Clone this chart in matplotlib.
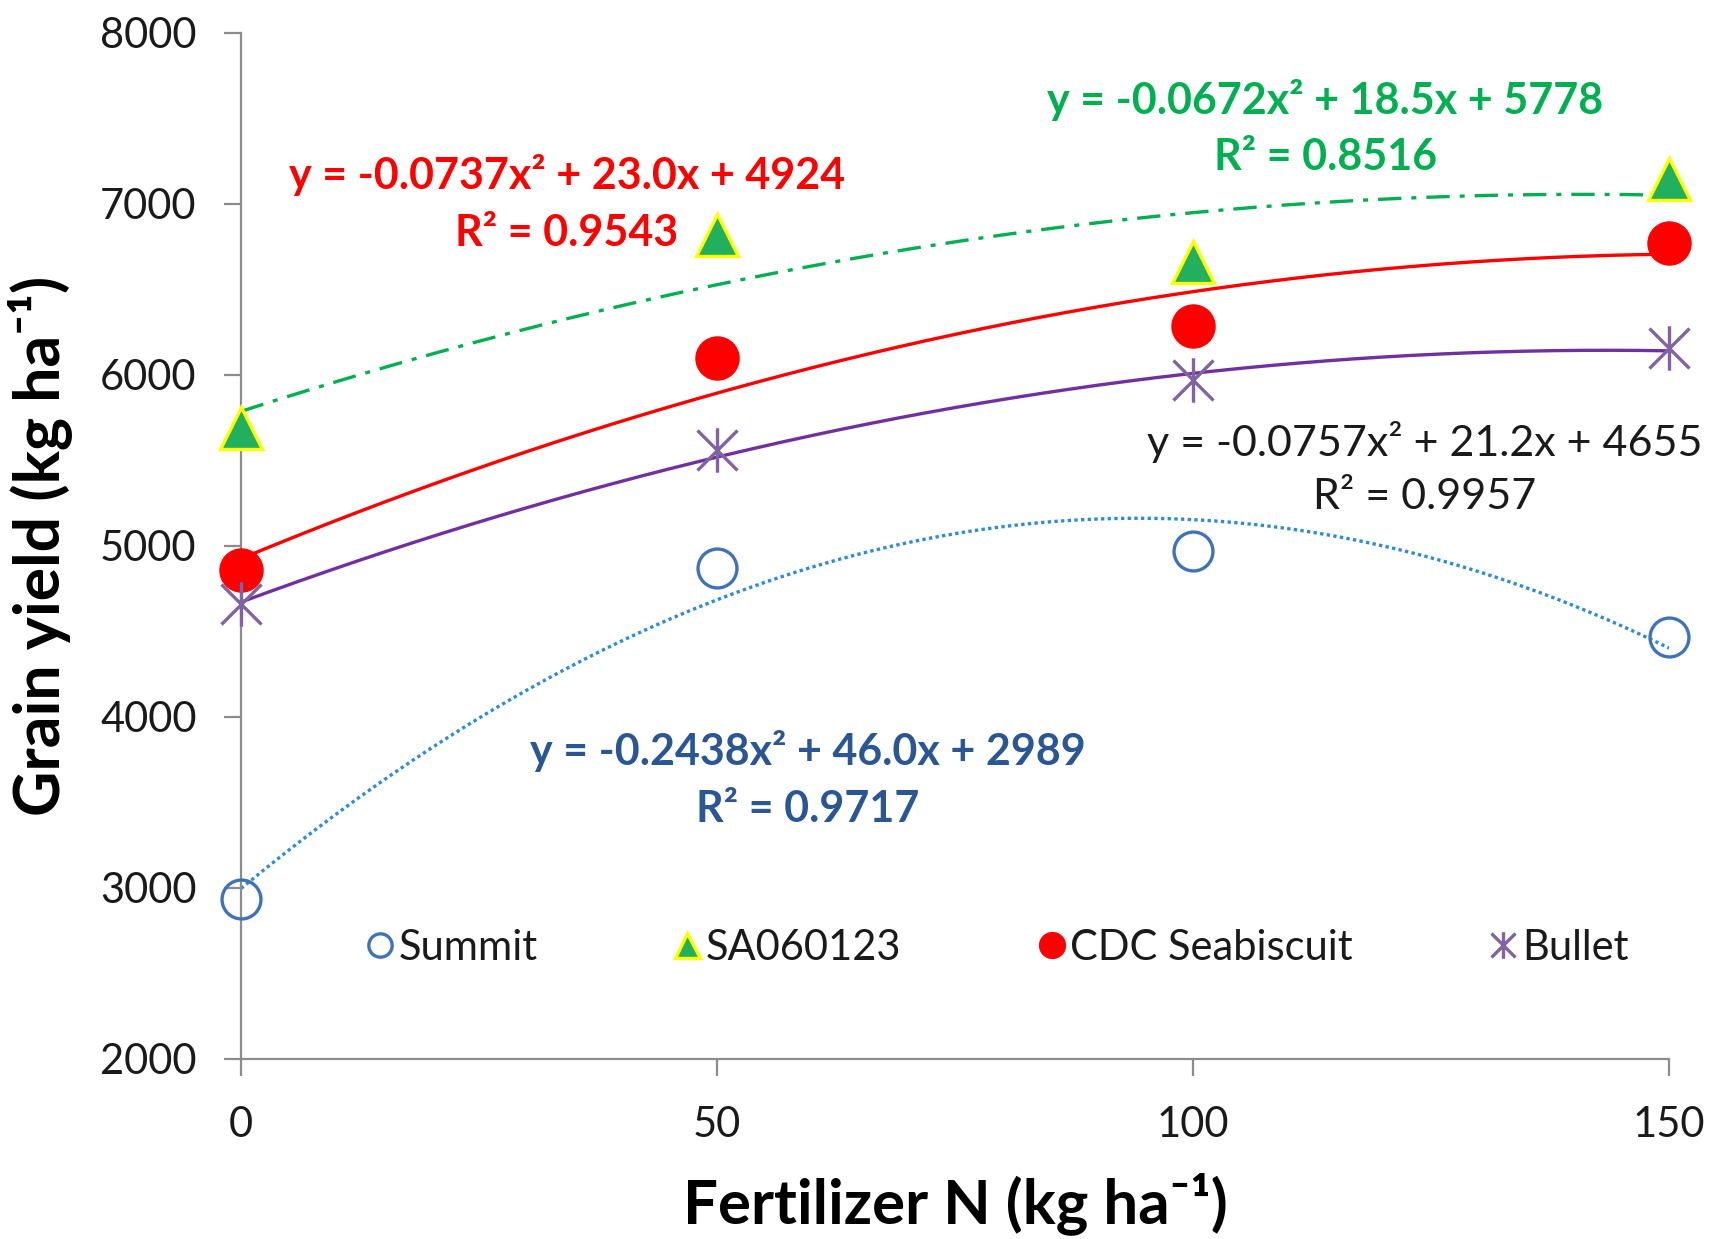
import numpy as np
import matplotlib.pyplot as plt
from matplotlib.path import Path

plt.rcParams["font.family"] = ["Lato", "DejaVu Sans"]

# fertilizer N rates (kg/ha) and grain yields (kg/ha)
nitrogen = [0, 50, 100, 150]
summit = [2935, 4871, 4968, 4465]
sa060123 = [5690, 6819, 6658, 7148]
seabiscuit = [4858, 6097, 6284, 6774]
bullet = [4658, 5561, 5968, 6155]

names = ["Summit", "SA060123", "CDC Seabiscuit", "Bullet"]
equations = [
    "y = -0.2438x² + 46.0x + 2989\nR² = 0.9717",
    "y = -0.0672x² + 18.5x + 5778\nR² = 0.8516",
    "y = -0.0737x² + 23.0x + 4924\nR² = 0.9543",
    "y = -0.0757x² + 21.2x + 4655\nR² = 0.9957",
]

# Excel style star marker: vertical bar plus an X
star = Path(
    [(0, -1), (0, 1), (-0.9, -0.9), (0.9, 0.9), (-0.9, 0.9), (0.9, -0.9)],
    [Path.MOVETO, Path.LINETO, Path.MOVETO, Path.LINETO, Path.MOVETO, Path.LINETO],
)

styles = [
    dict(marker="o", ms=28, mfc="none", mec="#3F72B8", mew=2.4),
    dict(marker="^", ms=30, mfc="#22B05E", mec="#FFFF00", mew=2.4),
    dict(marker="o", ms=31, mfc="#FF0000", mec="#FF0000", mew=1),
    dict(marker=star, ms=32, mfc="none", mec="#8064A2", mew=2.4),
]
trend_styles = [
    dict(color="#2E8BD8", lw=2.4, dashes=(1, 1), dash_capstyle="butt"),
    dict(color="#00B050", lw=2.4, dashes=(7, 3, 1.5, 3)),
    dict(color="#FF0000", lw=2.4),
    dict(color="#7030A0", lw=2.4),
]
eq_colors = ["#2B5694", "#00B050", "#FF0000", "#1A1A1A"]
eq_bold = ["bold", "bold", "bold", "normal"]
eq_pos = [(59.5, 3634), (113.9, 7445), (34.2, 7003), (124.3, 5453)]

fig = plt.figure(figsize=(17.29, 12.39), dpi=100)
ax = fig.add_axes([0.1394, 0.1453, 0.8259, 0.8281])

xs = np.linspace(0, 150, 301)
for name, ys, st, tst in zip(names, [summit, sa060123, seabiscuit, bullet], styles, trend_styles):
    coef = np.polyfit(nitrogen, ys, 2)
    ax.plot(xs, np.polyval(coef, xs), zorder=2, **tst)
    ax.plot(nitrogen, ys, linestyle="none", label=name, zorder=3, clip_on=False, **st)

for txt, col, wt, (px, py) in zip(equations, eq_colors, eq_bold, eq_pos):
    ax.text(px, py, txt, color=col, fontsize=31, fontweight=wt, ha="center", va="center",
            multialignment="center", linespacing=1.5)

ax.set_xlim(0, 150)
ax.set_ylim(2000, 8000)
ax.set_xticks(nitrogen)
ax.set_yticks(range(2000, 8001, 1000))

for s in ["top", "right"]:
    ax.spines[s].set_visible(False)
for s in ["left", "bottom"]:
    ax.spines[s].set_color("#8C8C8C")
    ax.spines[s].set_linewidth(1.6)

ax.tick_params(axis="both", direction="out", length=12, width=1.6, color="#8C8C8C",
               labelsize=30, labelcolor="#1A1A1A")
ax.tick_params(axis="y", pad=20)
ax.tick_params(axis="x", pad=22)

ax.set_xlabel("Fertilizer N (kg ha⁻¹)", fontsize=44.5, fontweight="bold", labelpad=20)
ax.set_ylabel("Grain yield (kg ha⁻¹)", fontsize=45, fontweight="bold", labelpad=20)

ax.legend(loc="center", bbox_to_anchor=(0.577, 0.235), bbox_transform=fig.transFigure,
          ncol=4, frameon=False, fontsize=30, markerscale=0.6, handlelength=0.6,
          handletextpad=0.15, columnspacing=3.3, labelcolor="#1A1A1A")

fig.savefig("out.png", dpi=100)
